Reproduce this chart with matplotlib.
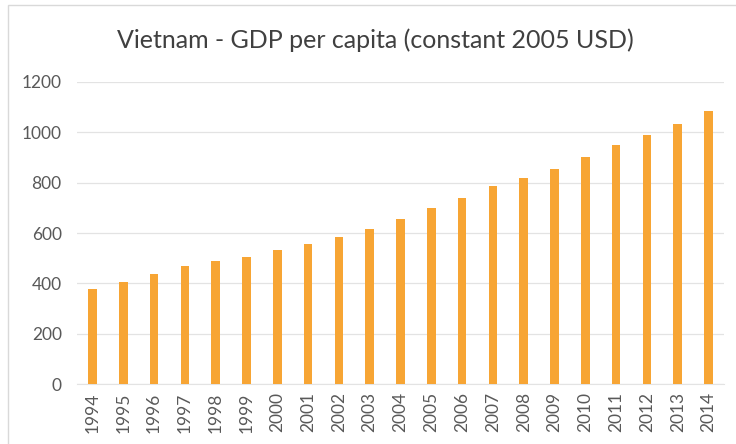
import matplotlib
matplotlib.use("Agg")
import matplotlib.pyplot as plt
from matplotlib.patches import Rectangle

years = [str(y) for y in range(1994, 2015)]
gdp = [377, 407, 439, 470, 488, 504, 531, 557, 585, 616, 654, 698, 740, 785,
       820, 856, 902, 950, 990, 1034, 1083]
yticks = [0, 200, 400, 600, 800, 1000, 1200]

plt.rcParams['font.family'] = ['Lato', 'DejaVu Sans']

fig = plt.figure(figsize=(7.36, 4.44), dpi=100)
fig.patch.set_facecolor('white')
# outer chart border (light gray)
fig.add_artist(Rectangle((8/736, -0.05), 1.2, (444-5)/444 + 0.05, transform=fig.transFigure,
                         fill=False, edgecolor='#d9d9d9', linewidth=1.0))

ax = fig.add_axes([77/736, 60/444, (724-77)/736, (384-82)/444])
x = list(range(len(years)))
ax.bar(x, gdp, width=0.28, color='#F7A534', zorder=3)
ax.set_xlim(-0.5, len(years) - 0.5)
ax.set_ylim(0, 1200)
ax.set_yticks(yticks)
ax.set_yticklabels([str(v) for v in yticks], fontsize=12.5, color='#595959')
ax.set_xticks(x)
ax.set_xticklabels(years, rotation=90, fontsize=12.5, color='#595959')
ax.tick_params(axis='y', length=0, pad=11)
ax.tick_params(axis='x', length=0, pad=6)
ax.grid(axis='y', color='#e3e3e3', linewidth=0.9, zorder=0)
for s in ['top', 'right', 'left']:
    ax.spines[s].set_visible(False)
ax.spines['bottom'].set_color('#e3e3e3')
ax.set_facecolor('white')

fig.text(375/736, 1 - 48/444, 'Vietnam - GDP per capita (constant 2005 USD)',
         ha='center', va='baseline', fontsize=18, color='#404040')

fig.savefig('out.png', dpi=100)
